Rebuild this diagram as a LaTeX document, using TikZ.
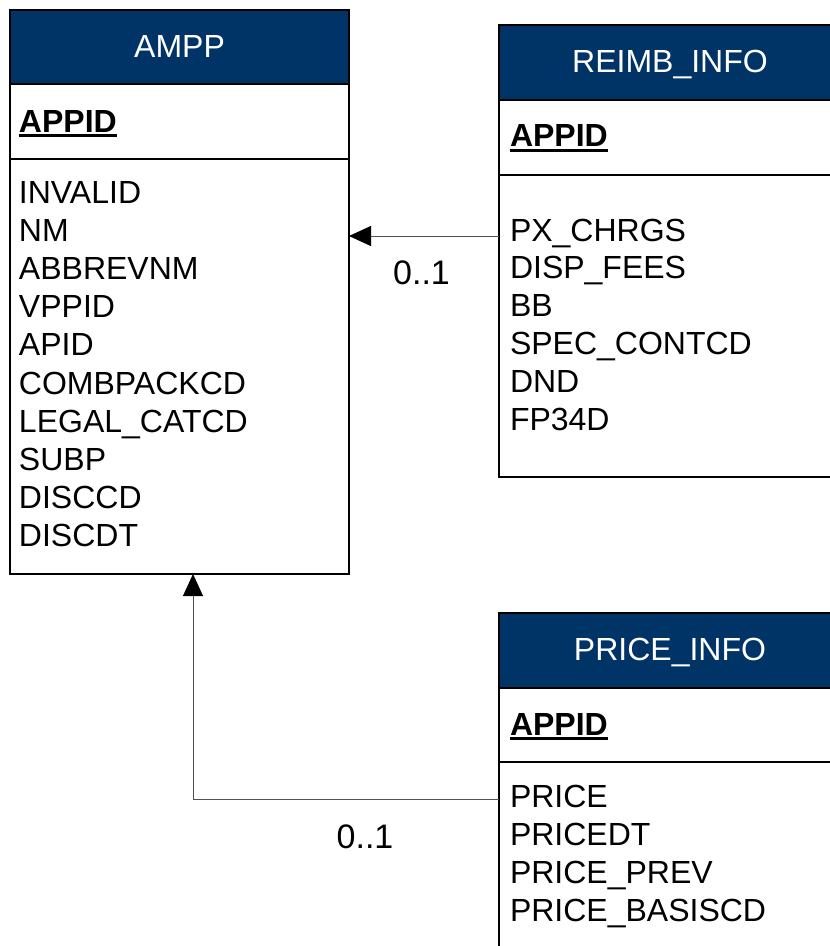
\documentclass[tikz,border=0pt]{standalone}
\usepackage{fontspec}
\setmainfont{Liberation Sans}
\usetikzlibrary{arrows.meta}
\definecolor{hdr}{RGB}{0,51,102}
\definecolor{conncol}{RGB}{80,80,80}
\newcommand\keyul[1]{\setbox0\hbox{\bfseries #1}\rlap{\rule[-5pt]{\wd0}{3pt}}\box0}
\begin{document}
\begin{tikzpicture}[x=1pt,y=-1pt,
  every node/.style={inner sep=0pt, outer sep=0pt},
  txt/.style={font=\fontsize{32}{38}\selectfont, anchor=base west},
  htxt/.style={font=\fontsize{32}{38}\selectfont, anchor=base, text=white},
  tbl/.style={draw=black, line width=1.8pt, anchor=north west, fill=white},
  hbox/.style={draw=black, line width=1.8pt, anchor=north west, fill=hdr},
  sep/.style={draw=black, line width=1.8pt},
  conn/.style={draw=conncol, line width=1pt, -{Triangle[length=22pt,width=20pt,black]}},
  mult/.style={font=\fontsize{34}{40}\selectfont, anchor=base}]
\useasboundingbox (0,0) rectangle (830,946);

% AMPP
\node[tbl, minimum width=339pt, minimum height=564pt] (ampp) at (10,10) {};
\node[hbox, minimum width=339pt, minimum height=74pt] (ampph) at (10,10) {};
\draw[sep] (10,159) -- (349,159);
\node[htxt] (amppt) at (179.5,57) {AMPP};
\node[txt] (amppk) at (19,132) {\keyul{APPID}};
\foreach \t [count=\i from 0] in {INVALID,NM,ABBREVNM,VPPID,APID,COMBPACKCD,LEGAL\_CATCD,SUBP,DISCCD,DISCDT}
  \node[txt] (amppa\i) at (19,{203+38.2*\i}) {\t};

% REIMB_INFO
\node[tbl, minimum width=342pt, minimum height=452pt] (reimb) at (499,25) {};
\node[hbox, minimum width=342pt, minimum height=75pt] (reimbh) at (499,25) {};
\draw[sep] (499,175) -- (841,175);
\node[htxt] (reimbt) at (670,72) {REIMB\_INFO};
\node[txt] (reimbk) at (510,146.5) {\keyul{APPID}};
\foreach \t [count=\i from 0] in {PX\_CHRGS,DISP\_FEES,BB,SPEC\_CONTCD,DND,FP34D}
  \node[txt] (reimba\i) at (510,{241+37.9*\i}) {\t};

% PRICE_INFO
\node[tbl, minimum width=342pt, minimum height=360pt] (price) at (499,613) {};
\node[hbox, minimum width=342pt, minimum height=75pt] (priceh) at (499,613) {};
\draw[sep] (499,762) -- (841,762);
\node[htxt] (pricet) at (670,660.5) {PRICE\_INFO};
\node[txt] (pricek) at (510,735) {\keyul{APPID}};
\foreach \t [count=\i from 0] in {PRICE,PRICEDT,PRICE\_PREV,PRICE\_BASISCD}
  \node[txt] (pricea\i) at (510,{807+38.3*\i}) {\t};

% connectors
\coordinate (r1) at (499,236);
\draw[conn] (r1) -- (r1 -| ampp.east);
\node[mult] (m1) at (421.5,284) {0..1};

\coordinate (p1) at (499,799.5);
\path (ampp.south west) ++(183,0) coordinate (a1);
\draw[conn] (p1) -| (a1);
\node[mult] (m2) at (365,848) {0..1};
\end{tikzpicture}
\end{document}
